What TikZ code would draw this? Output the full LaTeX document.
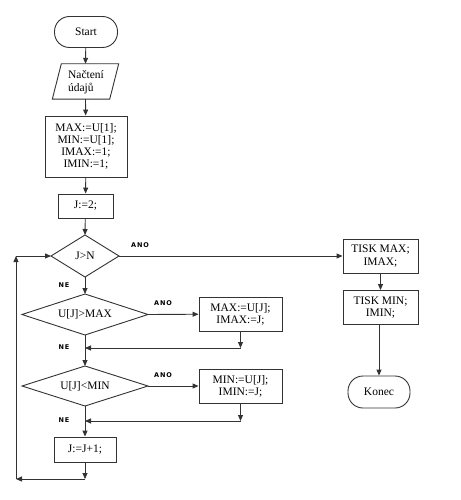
\documentclass[tikz,border=0pt]{standalone}
\usepackage{fontspec}
\setmainfont{Liberation Serif}
\newfontfamily\lblfont[LetterSpace=15]{DejaVu Sans}
\usetikzlibrary{arrows.meta}
\definecolor{ln}{gray}{0.2}
\tikzset{
  every node/.style={font=\fontsize{11.5}{13}\selectfont, text=black, inner sep=0pt, align=center},
  box/.style={draw=ln, line width=0.9pt, rectangle},
  term/.style={draw=ln, line width=0.9pt, rectangle, rounded corners=15pt},
  dia/.style={draw=ln, line width=0.9pt},
  lbl/.style={font=\lblfont\bfseries\fontsize{6.5}{8}\selectfont},
  conn/.style={draw=ln, line width=0.9pt},
  arr/.style={draw=ln, line width=0.9pt, -{Triangle[length=6pt,width=5pt]}},
}
\begin{document}
\begin{tikzpicture}[x=1pt,y=-1pt]
\useasboundingbox (0,0) rectangle (460,500);
\fill[white] (0,0) rectangle (460,500);

% nodes
\node[term, minimum width=63pt, minimum height=31pt] (start) at (86,32) {Start};
\node[minimum width=66pt, minimum height=35pt] (read) at (85.5,81.5) {};
\draw[dia] ([xshift=9pt]read.north west) -- (read.north east) -- ([xshift=-9pt]read.south east) -- (read.south west) -- cycle;
\node[align=left, font=\fontsize{11.5}{12.5}\selectfont] (readtxt) at (86,82) {Načtení\\údajů};
\node[box, minimum width=82pt, minimum height=61pt, font=\fontsize{11.5}{12.2}\selectfont] (init) at (86,146.5) {MAX:=U[1];\\MIN:=U[1];\\IMAX:=1;\\IMIN:=1;};
\node[box, minimum width=55pt, minimum height=24pt] (j2) at (85.5,206) {J:=2;};

\coordinate (d1c) at (85,256);
\coordinate (d1t) at (85,235); \coordinate (d1b) at (85,277);
\coordinate (d1l) at (51,256); \coordinate (d1r) at (119,256);
\draw[dia] (d1t) -- (d1r) -- (d1b) -- (d1l) -- cycle;
\node (d1) at (d1c) {J>N};

\coordinate (d2t) at (85,294); \coordinate (d2b) at (85,335);
\coordinate (d2l) at (22,314.5); \coordinate (d2r) at (148,314.5);
\draw[dia] (d2t) -- (d2r) -- (d2b) -- (d2l) -- cycle;
\node (d2) at (85,314.5) {U[J]>MAX};

\coordinate (d3t) at (85,366); \coordinate (d3b) at (85,406);
\coordinate (d3l) at (22,386); \coordinate (d3r) at (148,386);
\draw[dia] (d3t) -- (d3r) -- (d3b) -- (d3l) -- cycle;
\node (d3) at (85,386) {U[J]<MIN};

\node[box, minimum width=83pt, minimum height=34pt, font=\fontsize{11.5}{12.2}\selectfont] (b1) at (240.5,314) {MAX:=U[J];\\IMAX:=J;};
\node[box, minimum width=83pt, minimum height=34pt, font=\fontsize{11.5}{12.2}\selectfont] (b2) at (240.5,386) {MIN:=U[J];\\IMIN:=J;};
\node[box, minimum width=62pt, minimum height=25pt] (inc) at (85,449.5) {J:=J+1;};

\node[box, minimum width=75pt, minimum height=34pt, font=\fontsize{11.5}{12.2}\selectfont] (tmax) at (380.5,256) {TISK MAX;\\IMAX;};
\node[box, minimum width=75pt, minimum height=34pt, font=\fontsize{11.5}{12.2}\selectfont] (tmin) at (380.5,307.5) {TISK MIN;\\IMIN;};
\node[term, minimum width=62pt, minimum height=32pt] (konec) at (379,392) {Konec};

% labels
\node[lbl] (l1) at (140,245) {ANO};
\node[lbl] (l2) at (64,285) {NE};
\node[lbl] (l3) at (163,303) {ANO};
\node[lbl] (l4) at (64,347) {NE};
\node[lbl] (l5) at (163,375) {ANO};
\node[lbl] (l6) at (64,420) {NE};

% connectors
\draw[arr] (start) -- (read.north);
\draw[arr] (read.south) -- (init);
\draw[arr] (init) -- (j2);
\draw[arr] (j2) -- (d1t);
\draw[arr] (d1r) -- (tmax);
\draw[arr] (tmax) -- (tmin);
\draw[arr] (tmin.south -| konec.north) -- (konec);
\draw[arr] (d1b) -- (d2t);
\draw[arr] (d2r) -- (b1);
\coordinate (m1) at (85,348);
\coordinate (m1r) at (240.5,348);
\draw[arr] (b1) -- (m1r);
\draw[arr] (m1r) -- (m1);
\draw[conn] (d2b) -- (m1);
\draw[arr] (m1) -- (d3t);
\draw[arr] (d3r) -- (b2);
\coordinate (m2) at (85,421);
\coordinate (m2r) at (240.5,421);
\draw[arr] (b2) -- (m2r);
\draw[arr] (m2r) -- (m2);
\draw[conn] (d3b) -- (m2);
\draw[arr] (m2) -- (inc);
\coordinate (lb) at (85,479);
\coordinate (lbl) at (16,479);
\coordinate (ltl) at (16,256);
\draw[arr] (inc) -- (lb);
\draw[arr] (lb) -- (lbl);
\draw[arr] (lbl) -- (ltl);
\draw[arr] (ltl) -- (d1l);
\end{tikzpicture}
\end{document}
